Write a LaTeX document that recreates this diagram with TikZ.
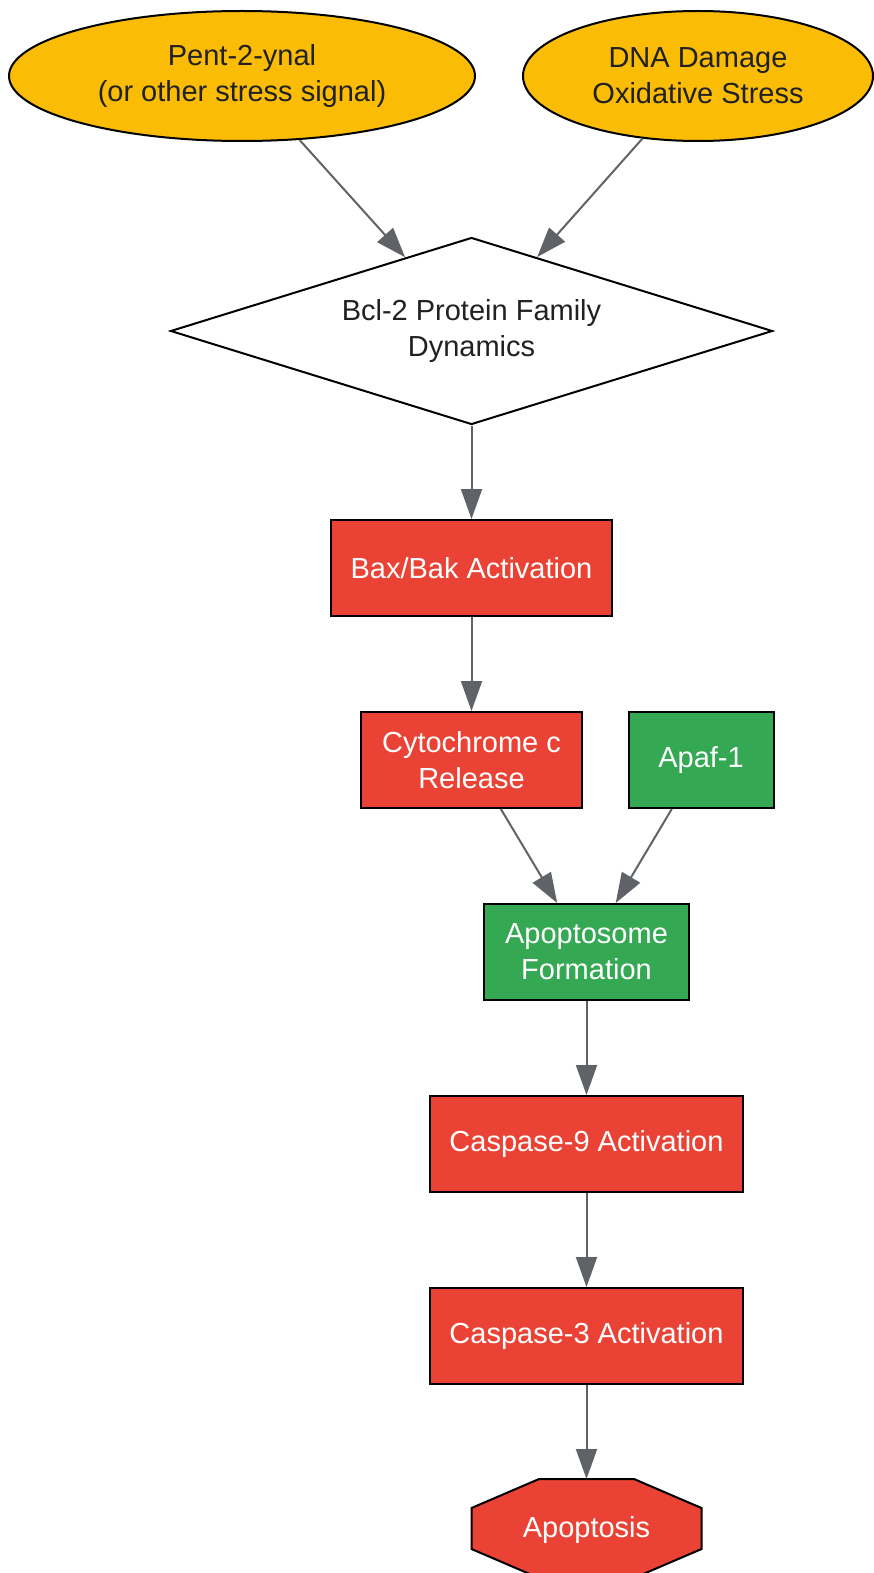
\documentclass[tikz,border=0pt]{standalone}
\usepackage{fontspec}
\setmainfont{Liberation Sans}
\usetikzlibrary{shapes.geometric,arrows.meta}
\definecolor{gy}{HTML}{FBBC05}
\definecolor{rd}{HTML}{EA4335}
\definecolor{gn}{HTML}{34A853}
\definecolor{dk}{HTML}{202124}
\definecolor{eg}{HTML}{5F6368}
\tikzset{
  base/.style={draw=black, line width=2pt, inner sep=0pt, align=center, font=\fontsize{29}{36}\selectfont},
  oval/.style={base, ellipse, fill=gy, text=dk},
  decision/.style={base, diamond, fill=white, text=dk},
  redbox/.style={base, rectangle, fill=rd, text=white},
  greenbox/.style={base, rectangle, fill=gn, text=white},
  edge/.style={draw=eg, line width=2pt, -{Triangle[length=30pt,width=21pt]}},
}
\begin{document}
\begin{tikzpicture}[x=1pt,y=-1pt]
\useasboundingbox (0,0) rectangle (873,1573);
\node[oval, minimum width=466, minimum height=130] (p1) at (242,76) {Pent-2-ynal\\(or other stress signal)};
\node[oval, minimum width=350, minimum height=130] (p2) at (698,76) {DNA Damage\\Oxidative Stress};
\node[decision, shape aspect=3.22, minimum width=602, minimum height=187] (bcl) at (471.5,331) {Bcl-2 Protein Family\\Dynamics};
\node[redbox, minimum width=281, minimum height=96] (bax) at (471.5,568) {Bax/Bak Activation};
\node[redbox, minimum width=221, minimum height=96] (cyt) at (471.5,760) {Cytochrome c\\Release};
\node[greenbox, minimum width=145, minimum height=96] (apaf) at (701,760) {Apaf-1};
\node[greenbox, minimum width=205, minimum height=96] (apo) at (586.5,952) {Apoptosome\\Formation};
\node[redbox, minimum width=313, minimum height=96] (c9) at (586.5,1144) {Caspase-9 Activation};
\node[redbox, minimum width=313, minimum height=96] (c3) at (586.5,1336) {Caspase-3 Activation};
\node[base, draw=none, rectangle, minimum width=228, minimum height=97, text=white] (ap) at (586.5,1528.5) {};
\draw[line width=2pt, fill=rd] ([xshift=-47.5pt]ap.north) -- ([xshift=47.5pt]ap.north)
  -- ([yshift=20.5pt]ap.east) -- ([yshift=-20.5pt]ap.east)
  -- ([xshift=47.5pt]ap.south) -- ([xshift=-47.5pt]ap.south)
  -- ([yshift=-20.5pt]ap.west) -- ([yshift=20.5pt]ap.west) -- cycle;
\node[font=\fontsize{29}{36}\selectfont, text=white] at ([yshift=-1pt]ap.center) {Apoptosis};
\draw[edge] (p1) -- (bcl);
\draw[edge] (p2) -- (bcl);
\draw[edge] (bcl) -- (bax);
\draw[edge] (bax) -- (cyt);
\draw[edge] (cyt) -- (apo);
\draw[edge] (apaf) -- (apo);
\draw[edge] (apo) -- (c9);
\draw[edge] (c9) -- (c3);
\draw[edge] (c3) -- (ap);
\end{tikzpicture}
\end{document}
